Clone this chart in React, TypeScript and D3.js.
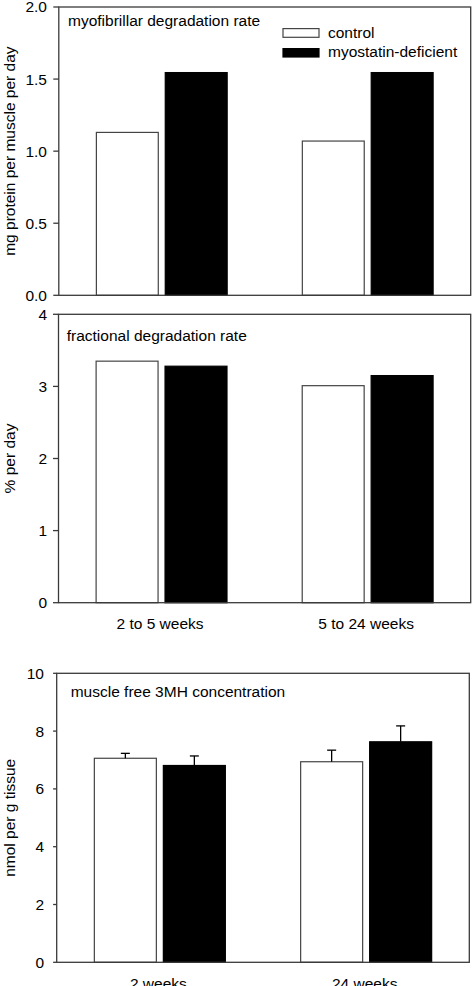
import React from "react";
import * as d3 from "d3";

const seriesNames = ["control", "myostatin-deficient"];
const periodCats = ["2 to 5 weeks", "5 to 24 weeks"];
const ageCats = ["2 weeks", "24 weeks"];

const myofibrillarControl = [1.13, 1.07];
const myofibrillarMyostatin = [1.545, 1.545];

const fractionalControl = [3.35, 3.01];
const fractionalMyostatin = [3.28, 3.15];

const freeControl = [7.06, 6.94];
const freeMyostatin = [6.81, 7.63];
const freeControlErr = [0.17, 0.4];
const freeMyostatinErr = [0.33, 0.55];

const ticks1 = [0, 0.5, 1.0, 1.5, 2.0];
const ticks2 = [0, 1, 2, 3, 4];
const ticks3 = [0, 2, 4, 6, 8, 10];

const FONT = "'Liberation Sans', Arial, Helvetica, sans-serif";
const FS = 15.5;
const FRAME = "#3a3a3a";

type PanelProps = {
  left: number;
  right: number;
  top: number;
  bottom: number;
  yMax: number;
  ticks: number[];
  fmt: (v: number) => string;
  tickLen: number;
  labelEnd: number;
  cats: string[];
  showCats: boolean;
  control: number[];
  myo: number[];
  controlErr?: number[];
  myoErr?: number[];
  title: string;
  titleX: number;
  titleY: number;
  yLabel: string;
  legend?: boolean;
};

function Panel(p: PanelProps) {
  const y = d3.scaleLinear().domain([0, p.yMax]).range([p.bottom, p.top]);
  const x0 = d3
    .scaleBand<string>()
    .domain(p.cats)
    .range([p.left, p.right])
    .paddingInner(0.365)
    .paddingOuter(0.1825);
  const x1 = d3
    .scaleBand<string>()
    .domain(seriesNames)
    .range([0, x0.bandwidth()])
    .paddingInner(0.1014)
    .paddingOuter(0);
  const rows = p.cats.map((c, i) => ({
    cat: c,
    vals: [
      { s: seriesNames[0], v: p.control[i], e: p.controlErr ? p.controlErr[i] : undefined },
      { s: seriesNames[1], v: p.myo[i], e: p.myoErr ? p.myoErr[i] : undefined },
    ],
  }));
  const midY = (p.top + p.bottom) / 2;
  return (
    <g>
      {rows.map((r) =>
        r.vals.map((d) => {
          const bx = (x0(r.cat) as number) + (x1(d.s) as number);
          const bw = x1.bandwidth();
          const isCtrl = d.s === seriesNames[0];
          return (
            <g key={r.cat + d.s}>
              <rect
                x={bx}
                y={y(d.v)}
                width={bw}
                height={p.bottom - y(d.v)}
                fill={isCtrl ? "#fff" : "#000"}
                stroke={isCtrl ? "#444" : "#000"}
                strokeWidth={1.2}
              />
              {d.e !== undefined && (
                <g stroke="#000" strokeWidth={1.3}>
                  <line x1={bx + bw / 2} x2={bx + bw / 2} y1={y(d.v)} y2={y(d.v + d.e)} />
                  <line x1={bx + bw / 2 - 4.5} x2={bx + bw / 2 + 4.5} y1={y(d.v + d.e)} y2={y(d.v + d.e)} />
                </g>
              )}
            </g>
          );
        })
      )}
      <rect
        x={p.left}
        y={p.top}
        width={p.right - p.left}
        height={p.bottom - p.top}
        fill="none"
        stroke={FRAME}
        strokeWidth={1.3}
      />
      {p.ticks.map((t) => (
        <g key={t}>
          <line x1={p.left - p.tickLen} x2={p.left} y1={y(t)} y2={y(t)} stroke={FRAME} strokeWidth={1.3} />
          <text
            x={p.labelEnd}
            y={y(t)}
            dy="0.35em"
            textAnchor="end"
            fontFamily={FONT}
            fontSize={FS}
            fill="#000"
          >
            {p.fmt(t)}
          </text>
        </g>
      ))}
      <text
        transform={`translate(15,${midY}) rotate(-90)`}
        textAnchor="middle"
        fontFamily={FONT}
        fontSize={FS}
        fill="#000"
      >
        {p.yLabel}
      </text>
      <text x={p.titleX} y={p.titleY} fontFamily={FONT} fontSize={FS} fill="#000">
        {p.title}
      </text>
      {p.showCats &&
        p.cats.map((c) => (
          <text
            key={c}
            x={(x0(c) as number) + x0.bandwidth() / 2 - 1.5}
            y={p.bottom + 26.3}
            textAnchor="middle"
            fontFamily={FONT}
            fontSize={FS}
            fill="#000"
          >
            {c}
          </text>
        ))}
      {p.legend && (
        <g>
          {seriesNames.map((s, i) => (
            <g key={s}>
              <rect
                x={283}
                y={28.6 + i * 20}
                width={36}
                height={i === 0 ? 8.7 : 8.4}
                fill={i === 0 ? "#fff" : "#000"}
                stroke={i === 0 ? "#444" : "#000"}
                strokeWidth={1.2}
              />
              <text x={328} y={37.7 + i * 19.6} fontFamily={FONT} fontSize={FS} fill="#000">
                {s}
              </text>
            </g>
          ))}
        </g>
      )}
    </g>
  );
}

export default function App() {
  return (
    <svg
      width={474}
      height={986}
      style={{ position: "absolute", left: 0, top: 0, background: "#fff" }}
    >
      <rect x={0} y={0} width={474} height={986} fill="#fff" />
      <Panel
        left={58.8}
        right={470.7}
        top={7}
        bottom={295.3}
        yMax={2}
        ticks={ticks1}
        fmt={d3.format(".1f")}
        tickLen={5.5}
        labelEnd={47}
        cats={periodCats}
        showCats={false}
        control={myofibrillarControl}
        myo={myofibrillarMyostatin}
        title="myofibrillar degradation rate"
        titleX={68}
        titleY={26}
        yLabel="mg protein per muscle per day"
        legend
      />
      <Panel
        left={58.5}
        right={470.7}
        top={314.3}
        bottom={602.7}
        yMax={4}
        ticks={ticks2}
        fmt={d3.format("d")}
        tickLen={5.5}
        labelEnd={47}
        cats={periodCats}
        showCats={true}
        control={fractionalControl}
        myo={fractionalMyostatin}
        title="fractional degradation rate"
        titleX={66.7}
        titleY={340.7}
        yLabel="% per day"
      />
      <Panel
        left={56.7}
        right={469.3}
        top={673.3}
        bottom={962.3}
        yMax={10}
        ticks={ticks3}
        fmt={d3.format("d")}
        tickLen={3.6}
        labelEnd={44}
        cats={ageCats}
        showCats={true}
        control={freeControl}
        myo={freeMyostatin}
        controlErr={freeControlErr}
        myoErr={freeMyostatinErr}
        title="muscle free 3MH concentration"
        titleX={70.7}
        titleY={697.3}
        yLabel="nmol per g tissue"
      />
    </svg>
  );
}
